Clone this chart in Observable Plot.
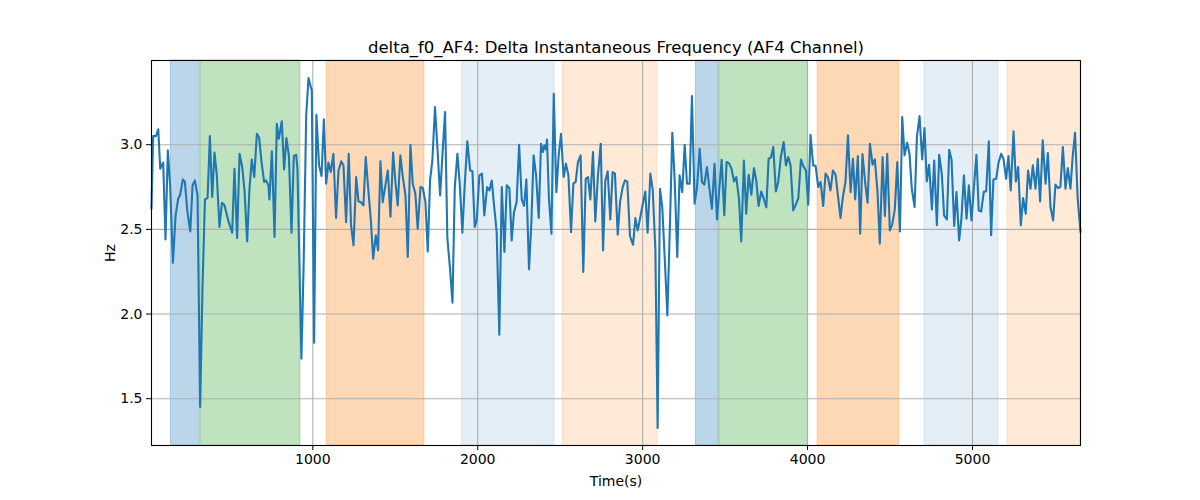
<!DOCTYPE html>
<html><head><meta charset="utf-8">
<script src="https://cdn.jsdelivr.net/npm/d3@7"></script>
<script src="https://cdn.jsdelivr.net/npm/@observablehq/plot@0.6"></script>
<style>body{margin:0;background:#fff;font-family:"DejaVu Sans",sans-serif}</style>
</head><body><div id="chart"></div>
<script>
const title = "delta_f0_AF4: Delta Instantaneous Frequency (AF4 Channel)";
const xLabel = "Time(s)";
const yLabel = "Hz";

const times = [
22,32,49,63,75,83,93,107,121,135, 152,168,184,196,212,224,240,257,271,285, 301,317,331,346,362,376,390,404,418,434, 449,463,475,489,511,525,541,556,572,586, 602,616,630,645,661,675,689,705,717,731, 737,752,768,782,794,812,826,840,855,871, 885,899,907,931,944,960,974,988,
994,1008,1022,1038,1053,1067,1081,1095,1109,1125, 1141,1156,1172,1186,1202,1218,1232,1247,1263,1277, 1291,1307,1321,1337,1352,1366,1382,1396,1410,1424, 1440,1455,1471,1487,1501,1515,1531,1546,1562,1576, 1592,1606,1622,1636,1653,1667,1683,1697,1711,1725, 1741,1756,1772,1786,1802,1816,1832,1847,1861,1877, 1891,1907,1921,1937,1954,
1968,1982,1994,2010,2026,2040,2057,2071,2085,2101, 2115,2131,2146,2162,2176,2192,2206,2220,2236,2251, 2267,2281,2295,2311,2325,2339,2354,2370,2384,2396, 2404,2414,2420,2432,2447,2461,2477,2491,2505,2521, 2535,2550,2566,2580,2594,2608,2624,2640,2655,2669, 2683,2699,2713,2729,2746,2760,2774,2788,2804,2818, 2832,2849,2863,2879,2893,2907,2923,
2942,2956,2970,2984,3000,3016,3030,3047,3061,3077, 3091,3105,3119,3135,3150,3166,3180,3194,3210,3224, 3240,3255,3269,3285,3299,3315,3329,3346,3360,3374, 3390,3404,3420,3436,3451,3465,3479,3495,3509,3525, 3539,3554,3568,3584,3598,3614,3628,3643,3659,3675, 3689,3703,3719,3733,3750,3764,3778,3792,3808,3822, 3838,3855,3869,3883,3897,
3913,3927,3944,3960,3974,3990,4004,4018,4034,4049, 4065,4079,4095,4109,4123,4139,4154,4170,4184,4200, 4214,4230,4245,4261,4275,4289,4305,4319,4333,4350, 4364,4378,4394,4408,4424,4438,4455,4469,4483,4499, 4513,4529,4544,4560,4574,4588,4604,4618,4632,4649, 4663,4679,4695,4709,4723,4737,4754,4768,4784,4798,
4814,4828,4845,4859,4873,4889,4903,4919,4933,4948, 4964,4978,4994,5008,5024,5038,5053,5069,5083,5099, 5113,5127,5144,5158,5174,5188,5204,5218,5232,5249, 5263,5277,5293,5307,5323,5337,5352,5366,5382,5396, 5410,5426,5443,5457,5473,5489,5503,5519,5533,5548, 5564,5578,5594,5608,5622,5638,5655
];

const hz = [
2.622,3.051,3.051,3.091,2.858,2.878,2.894,2.441,2.967,2.760, 2.303,2.583,2.681,2.705,2.795,2.783,2.602,2.488,2.760,2.789, 2.701,1.451,2.150,2.677,2.685,3.051,2.691,2.953,2.823,2.514, 2.657,2.646,2.602,2.547,2.480,2.858,2.449,2.947,2.868,2.730, 2.429,2.740,2.913,2.809,3.065,3.039,2.898,2.780,2.789,2.760, 2.677,2.961,2.455,3.124,3.035,3.138,2.854,3.039,2.937,2.480, 2.933,2.941,2.858,1.736,2.268,3.173,3.394,3.341,
3.321,1.831,3.177,2.878,2.815,3.150,2.770,2.894,2.839,2.947, 2.567,2.848,2.902,2.878,2.543,2.947,2.524,2.406,2.809,2.665, 2.661,2.642,2.927,2.730,2.553,2.327,2.465,2.376,2.902,2.661, 2.760,2.848,2.575,2.953,2.780,2.642,2.937,2.809,2.701,2.337, 3.000,2.770,2.711,2.504,2.750,2.744,2.661,2.370,2.789,2.907, 3.222,2.976,2.701,2.937,3.193,2.449,2.268,2.067,2.750,2.947, 2.770,2.480,2.760,3.020,2.848,
2.843,2.514,2.553,2.819,2.829,2.583,2.750,2.730,2.789,2.622, 2.484,1.878,2.750,2.366,2.760,2.744,2.435,2.602,2.661,3.000, 2.677,2.638,2.795,2.264,2.533,2.937,2.819,2.567,3.006,2.957, 2.996,2.972,3.031,2.681,2.474,3.301,2.720,2.937,3.065,2.809, 2.888,2.819,2.484,2.770,2.780,2.898,2.937,2.248,2.799,2.809, 2.677,2.957,2.547,2.819,3.006,2.376,2.789,2.843,2.559,2.839, 2.829,2.469,2.661,2.750,2.789,2.783,2.461,
2.409,2.567,2.494,2.563,2.646,2.724,2.480,2.829,2.736,2.386, 1.327,2.740,2.632,2.307,1.992,2.543,3.071,2.799,2.337,2.819, 2.720,3.000,2.770,2.770,3.287,2.652,2.740,2.976,2.780,2.764, 2.868,2.750,2.622,2.888,2.559,2.740,2.911,2.583,2.898,2.888, 2.858,2.783,2.809,2.681,2.429,2.907,2.593,2.823,2.705,2.862, 2.789,2.638,2.724,2.685,2.630,2.917,2.925,2.986,2.724,2.780, 2.927,3.016,2.878,2.927,2.878,
2.612,2.642,2.685,2.913,2.874,2.848,2.646,3.059,2.878,2.874, 2.750,2.780,2.638,2.829,2.809,2.730,2.848,2.823,2.701,2.567, 2.691,2.780,3.055,2.720,2.917,2.677,2.933,2.474,2.945,2.770, 2.657,3.006,2.882,2.913,2.724,2.415,2.927,2.579,2.947,2.494, 2.528,2.618,2.898,2.488,3.163,2.937,3.012,2.947,2.740,2.632, 3.045,3.169,2.913,3.098,2.783,2.882,2.618,2.907,2.524,2.941,
2.829,2.583,2.559,2.970,2.913,2.520,2.720,2.435,2.563,2.819, 2.563,2.760,2.553,2.740,2.941,2.612,2.606,2.724,2.724,3.020, 2.465,2.795,2.799,2.894,2.947,2.917,2.799,2.933,2.730,3.079, 2.783,2.868,2.524,2.685,2.593,2.848,2.740,2.878,2.740,2.917, 2.665,3.026,2.770,2.951,2.632,2.553,2.764,2.744,2.750,2.986, 2.740,2.862,2.740,2.937,3.071,2.681,2.484
];

const spanStart = [139, 321, 1085, 1905, 2515, 3323, 3465, 4061, 4709, 5212];
const spanEnd   = [315, 925, 1677, 2467, 3089, 3461, 4002, 4555, 5158, 5655];
const spanKind  = ["blue", "green", "orange", "lightblue", "lightorange", "blue", "green", "orange", "lightblue", "lightorange"];

const kindNames  = ["blue", "green", "orange", "lightblue", "lightorange"];
const kindColors = ["rgba(31,119,180,0.3)", "rgba(44,160,44,0.3)", "rgba(255,127,14,0.3)", "rgba(31,119,180,0.12)", "rgba(255,127,14,0.16)"];

const xTicks = [1000, 2000, 3000, 4000, 5000];
const yTicks = [1.5, 2.0, 2.5, 3.0];

const data = times.map((t, i) => ({t, v: hz[i]}));
const spans = spanStart.map((s, i) => ({x1: s, x2: spanEnd[i], kind: spanKind[i]}));
const yMin = d3.min(hz), yMax = d3.max(hz), pad = (yMax - yMin) * 0.05;

const chart = Plot.plot({
  width: 1200, height: 500,
  marginTop: 60, marginBottom: 55, marginLeft: 151, marginRight: 120,
  style: {fontFamily: "'DejaVu Sans', sans-serif", fontSize: "14px", color: "#000", background: "#fff", overflow: "visible"},
  x: {domain: [times[0], times[times.length - 1]]},
  y: {domain: [yMin - pad, yMax + pad]},
  color: {domain: kindNames, range: kindColors},
  marks: [
    Plot.rect(spans, {x1: "x1", x2: "x2", fill: "kind", stroke: "kind", strokeWidth: 1}),
    Plot.gridX(xTicks, {stroke: "#b0b0b0", strokeOpacity: 1, strokeWidth: 1.1}),
    Plot.gridY(yTicks, {stroke: "#b0b0b0", strokeOpacity: 1, strokeWidth: 1.1}),
    Plot.line(data, {x: "t", y: "v", stroke: "#1f77b4", strokeWidth: 2.1}),
    Plot.frame({stroke: "#000", strokeWidth: 1.1}),
    Plot.axisX(xTicks, {tickSize: 5, tickPadding: 4, stroke: "#000", fill: "#000", tickFormat: d3.format("d"), label: xLabel, labelAnchor: "center", labelArrow: "none", labelOffset: 40}),
    Plot.axisY(yTicks, {tickSize: 5, tickPadding: 4, stroke: "#000", fill: "#000", tickFormat: d3.format(".1f"), label: yLabel, labelAnchor: "center", labelArrow: "none", labelOffset: 46}),
    Plot.text([title], {frameAnchor: "top", dy: -19, fontSize: 16.5, fill: "#000"})
  ]
});
document.getElementById("chart").appendChild(chart);
</script>
</body></html>
